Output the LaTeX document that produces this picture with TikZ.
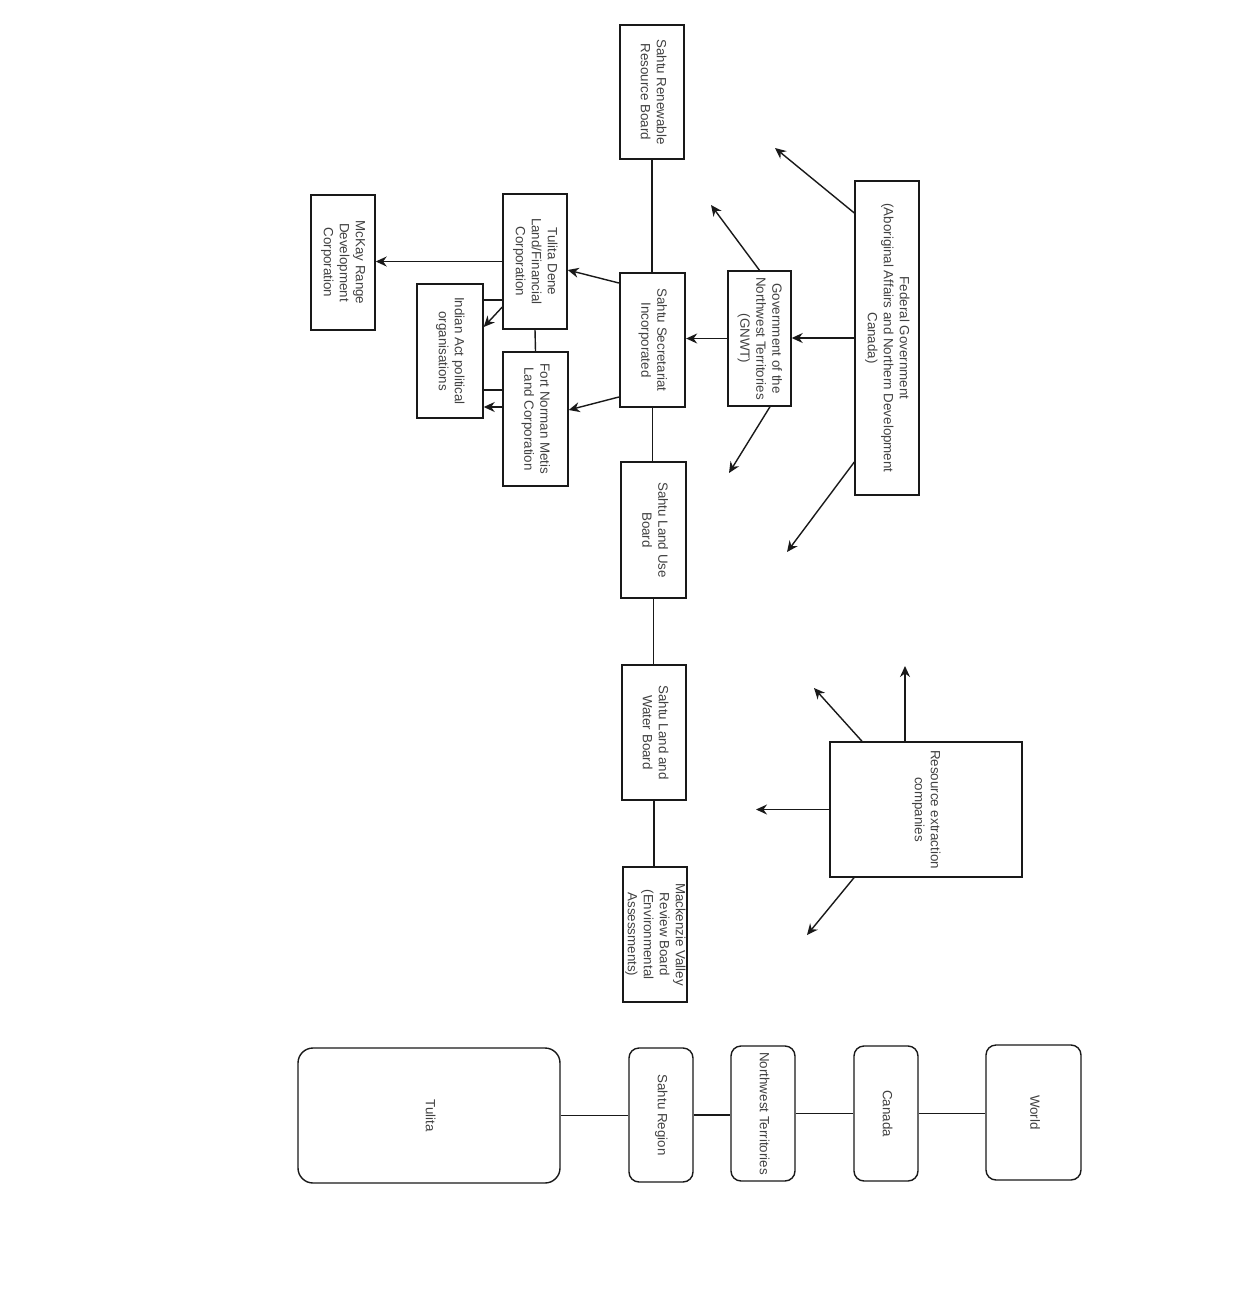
\documentclass[tikz,border=0pt]{standalone}
\usepackage{fontspec}
\setmainfont{Liberation Sans}
\usepackage{graphicx}
\usetikzlibrary{positioning,arrows.meta,calc}

\newcommand{\vtext}[1]{\rotatebox{-90}{\begin{tabular}{@{}c@{}}#1\end{tabular}}}

\begin{document}
\begin{tikzpicture}[
	x=0.02cm, y=-0.02cm,
	font=\fontsize{7.6}{9.1}\selectfont,
	box/.style={
		draw=black!90,
		line width=0.8pt,
		inner sep=0pt,
		text=black!75,
		align=center,
	},
	sz/.style 2 args={minimum width=#1*0.02cm, minimum height=#2*0.02cm},
	place/.style={box, rounded corners=0.2cm},
	link/.style={draw=black!90, line width=0.8pt},
	flow/.style={link, -{Stealth[length=2.2mm, width=2mm]}},
]
\useasboundingbox (0,0) rectangle (1251,1315);

% --- Organisations ---
\node[box, sz={64}{134}] (srrb) at (652,92)     {\vtext{Sahtu Renewable\\Resource Board}};
\node[box, sz={64}{314}] (fed)  at (887,338)    {\vtext{Federal Government\\(Aboriginal Affairs and Northern Development\\Canada)}};
\node[box, sz={63}{135}] (gnwt) at (759.5,338.5){\vtext{Government of the\\Northwest Territories\\(GNWT)}};
\node[box, sz={65}{134}, line width=1.3pt] (ssi) at (652.5,340) {\vtext{Sahtu Secretariat\\Incorporated}};
\node[box, sz={64}{135}] (tdl)  at (535,261.5)  {\vtext{Tulita Dene\\Land/Financial\\Corporation}};
\node[box, sz={65}{134}] (fnm)  at (535.5,419)  {\vtext{Fort Norman Metis\\Land Corporation}};
\node[box, sz={66}{134}] (iapo) at (450,351)    {\vtext{Indian Act political\\organisations}};
\node[box, sz={64}{135}] (mckay) at (343,262.5) {\vtext{McKay Range\\Development\\Corporation}};
\node[box, sz={65}{136}] (slub) at (653.5,530)  {\vtext{Sahtu Land Use\\Board}};
\node[box, sz={64}{135}] (slwb) at (654,732.5)  {\vtext{Sahtu Land and\\Water Board}};
\node[box, sz={64}{135}] (mvrb) at (655,934.5)  {\vtext{Mackenzie Valley\\Review Board\\(Environmental\\Assessments)}};
\node[box, sz={192}{135}] (rec) at (926,809.5)  {\vtext{Resource extraction\\companies}};

% --- Scale of places ---
\node[place, sz={262}{135}, rounded corners=0.3cm] (tulita) at (429,1115.5) {\vtext{Tulita}};
\node[place, sz={64}{134}] (sreg)  at (661,1115)    {\vtext{Sahtu Region}};
\node[place, sz={64}{135}] (nwt)   at (763,1113.5)  {\vtext{Northwest Territories}};
\node[place, sz={64}{135}] (can)   at (886,1113.5)  {\vtext{Canada}};
\node[place, sz={95}{135}] (world) at (1033.5,1112.5) {\vtext{World}};

% --- Boards chain ---
\foreach \a/\b in {srrb/ssi, ssi/slub, slub/slwb, slwb/mvrb}
	\draw[link] (\a.south) -- (\a.south |- \b.north);

% --- Funding flow ---
\draw[flow] (fed.west) -- (fed.west -| gnwt.east);
\draw[flow] (gnwt.west) -- (gnwt.west -| ssi.east);
\draw[flow] ($(ssi.west)+(0,-57)$) -- ($(tdl.east)+(0,8.5)$);
\draw[flow] ($(ssi.west)+(0,57)$) -- ($(fnm.east)+(0,-9)$);
\draw[flow] (tdl.west) -- (tdl.west -| mckay.east);
\draw[link] (tdl.south) -- (fnm.north);

% Tulita Dene / Fort Norman -> Indian Act
\coordinate (t1) at ($(tdl.west)+(0,38.5)$);
\draw[link] (t1) -- (t1 -| iapo.east);
\draw[flow] ($(tdl.west)+(0,45.5)$) -- ($(iapo.east)+(0,-24)$);
\coordinate (f1) at ($(fnm.west)+(0,-29)$);
\draw[link] (f1) -- (f1 -| iapo.east);
\coordinate (f2) at ($(fnm.west)+(0,-12)$);
\draw[flow] (f2) -- (f2 -| iapo.east);

% --- Open arrows ---
\coordinate (fedUp)   at (775,148);
\coordinate (fedDown) at (787,552);
\draw[flow] ($(fed.west)+(0,-125)$) -- (fedUp);
\draw[flow] ($(fed.west)+(0,124)$) -- (fedDown);

\coordinate (gnwtUp)   at (711,205);
\coordinate (gnwtDown) at (729,473);
\draw[flow] (gnwt.north) -- (gnwtUp);
\draw[flow] ($(gnwt.south)+(10.5,0)$) -- (gnwtDown);

\coordinate (recUpL) at (814,688);
\coordinate (recUp)  at (905,666);
\coordinate (recL)   at (756,809.5);
\coordinate (recDn)  at (807,935);
\draw[flow] ($(rec.north)+(-64,0)$) -- (recUpL);
\draw[flow] ($(rec.north)+(-21,0)$) -- (recUp);
\draw[flow] (rec.west) -- (recL);
\draw[flow] ($(rec.south)+(-72,0)$) -- (recDn);

% --- Places chain ---
\foreach \a/\b in {tulita/sreg, sreg/nwt, nwt/can, can/world}
	\draw[link] (\a.east) -- (\a.east -| \b.west);

\end{tikzpicture}
\end{document}
